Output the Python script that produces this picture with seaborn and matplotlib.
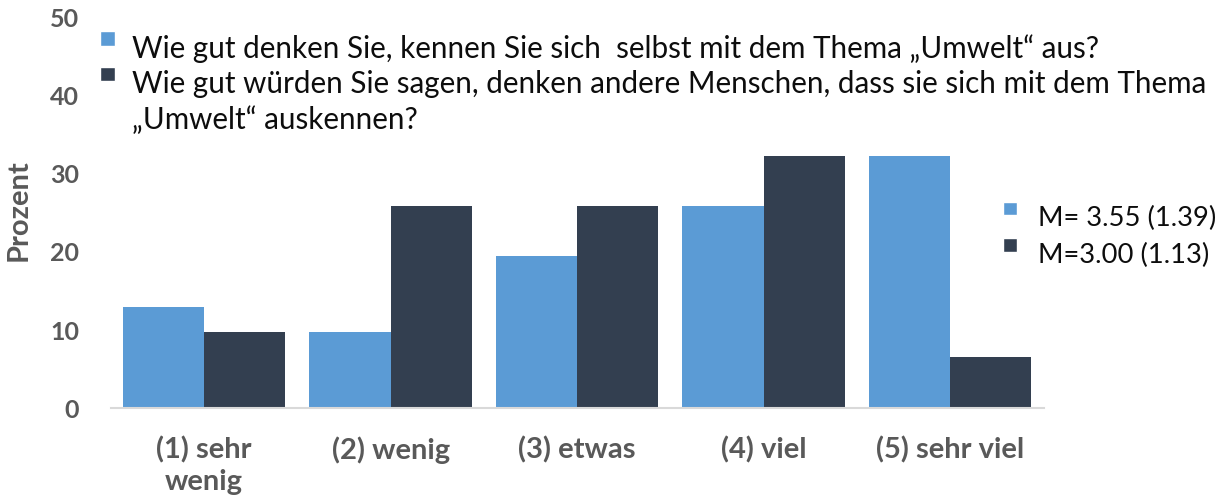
import numpy as np
import pandas as pd
import seaborn as sns
import matplotlib.pyplot as plt
from matplotlib.patches import Patch, Rectangle
from matplotlib.legend_handler import HandlerPatch

categories = ["(1) sehr\nwenig", "(2) wenig", "(3) etwas", "(4) viel", "(5) sehr viel"]
selbst = [12.9, 9.7, 19.4, 25.8, 32.3]
andere = [9.7, 25.8, 25.8, 32.3, 6.5]
series_labels = [
    "Wie gut denken Sie, kennen Sie sich  selbst mit dem Thema \u201eUmwelt\u201c aus?",
    "Wie gut w\u00fcrden Sie sagen, denken andere Menschen, dass sie sich mit dem Thema",
    "\u201eUmwelt\u201c auskennen?",
]
mean_labels = ["M= 3.55 (1.39)", "M=3.00 (1.13)"]

sns.set_theme(style="white")
plt.rcParams["font.family"] = ["Lato", "DejaVu Sans"]

df = pd.DataFrame({
    "Kategorie": categories * 2,
    "Prozent": selbst + andere,
    "Serie": ["selbst"] * 5 + ["andere"] * 5,
})
colors = ["#5B9BD5", "#333F50"]
grey = "#595959"


def square_top(legend, orig_handle, xdescent, ydescent, width, height, fontsize):
    # square marker sitting near the top of the text line
    return Rectangle((-xdescent, -ydescent + height - width + 0.2 * fontsize),
                     width, width)


fig, ax = plt.subplots(figsize=(12.32, 5.04), dpi=100)
fig.subplots_adjust(left=0.090, right=0.847, bottom=0.190, top=0.966)
sns.barplot(data=df, x="Kategorie", y="Prozent", hue="Serie",
            palette=colors, width=0.871, ax=ax, legend=False,
            saturation=1, linewidth=0)

ax.set_ylim(0, 50)
ax.set_yticks(np.arange(0, 51, 10))
ax.set_xlim(-0.5, 4.5)
ax.set_xlabel("")
ax.set_ylabel("Prozent", fontsize=21, fontweight="bold", color=grey)
ax.yaxis.set_label_coords(-0.085, 0.506)
ax.tick_params(axis="y", length=0, labelsize=18, labelcolor=grey, pad=23)
ax.tick_params(axis="x", length=0, labelsize=21, labelcolor=grey, pad=20)
for lab in ax.get_yticklabels():
    lab.set_fontweight("bold")
for lab in ax.get_xticklabels():
    lab.set_fontweight("bold")
    lab.set_linespacing(1.3)
for s in ["top", "right", "left"]:
    ax.spines[s].set_visible(False)
ax.spines["bottom"].set_color("#D9D9D9")
ax.spines["bottom"].set_linewidth(1.5)

hmap = {Patch: HandlerPatch(patch_func=square_top)}
top_handles = [Patch(facecolor=colors[0]), Patch(facecolor=colors[1]),
               Patch(facecolor="none", edgecolor="none")]
leg1 = fig.legend(top_handles, series_labels, loc="upper left",
                  bbox_to_anchor=(0.081, 0.932), frameon=False, fontsize=21.3,
                  handlelength=0.5, handleheight=0.7, handletextpad=0.6,
                  labelspacing=0.24, borderaxespad=0, borderpad=0,
                  handler_map=hmap)
for t in leg1.get_texts():
    t.set_color("#0D0D0D")

mean_handles = [Patch(facecolor=c) for c in colors]
leg2 = fig.legend(mean_handles, mean_labels, loc="center left",
                  bbox_to_anchor=(0.814, 0.53), frameon=False, fontsize=19.7,
                  handlelength=0.5, handleheight=0.7, handletextpad=0.8,
                  labelspacing=0.42, borderaxespad=0, borderpad=0,
                  handler_map=hmap)
for t in leg2.get_texts():
    t.set_color("#0D0D0D")

fig.savefig("out.png", dpi=100)
plt.close(fig)
